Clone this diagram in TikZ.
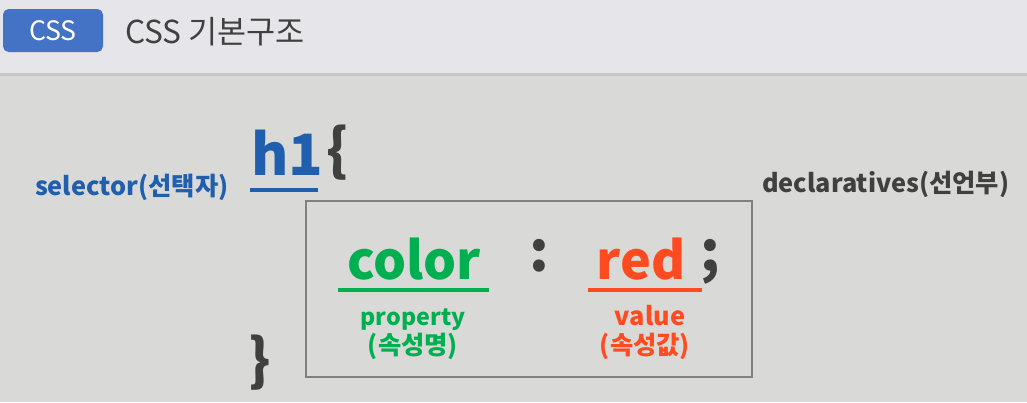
\documentclass[tikz,border=0pt]{standalone}
\usepackage{fontspec}
\setmainfont{Noto Sans CJK KR}
\definecolor{hdrgray}{HTML}{E6E5EA}
\definecolor{bodygray}{HTML}{D9D9D8}
\definecolor{btnblue}{HTML}{4472C4}
\definecolor{selblue}{HTML}{1F5FAD}
\definecolor{propgreen}{HTML}{00B050}
\definecolor{valred}{HTML}{FF4B1F}
\definecolor{darktext}{HTML}{404040}
\tikzset{
  lbl/.style={inner sep=0pt, outer sep=0pt},
  uline/.style={line width=3pt},
}
\begin{document}
\begin{tikzpicture}[x=0.025cm,y=-0.025cm]
\useasboundingbox (0,0) rectangle (1027,402);
\fill [bodygray] (0,0) rectangle (1027,402);
\fill [hdrgray] (0,0) rectangle (1027,73);
\fill [gray!45] (0,73) rectangle (1027,76);
% header
\node (btn) [lbl,fill=btnblue,rounded corners=4pt,minimum width=100*0.025cm,minimum height=43*0.025cm,
  text=white,font=\fontsize{19}{19}\selectfont,anchor=north west] at (3,9) {CSS};
\node (title) [lbl,text=darktext,font=\fontsize{22.5}{22.5}\selectfont,anchor=base west] at (125,43) {CSS 기본구조};
% selector
\node (sel) [lbl,text=selblue,font=\bfseries\fontsize{18}{18}\selectfont,anchor=base west] at (35,195) {selector(선택자)};
\node (h1) [lbl,text=selblue,font=\bfseries\fontsize{40.5}{40.5}\selectfont,anchor=base west] at (251,175) {h1};
\draw [uline,selblue] (250,190) -- (318,190);
\node (open) [lbl,text=darktext,font=\bfseries\fontsize{40}{40}\selectfont,anchor=base west] at (326,170) {\{};
\node (close) [lbl,text=darktext,font=\bfseries\fontsize{40}{40}\selectfont,anchor=base west] at (248,380) {\}};
% declarations
\node (decl) [lbl,text=darktext,font=\bfseries\fontsize{18}{18}\selectfont,anchor=base west] at (762,192) {declaratives(선언부)};
\draw [line width=2pt,gray] (306,201) rectangle (752,377);
\node (prop) [lbl,text=propgreen,font=\bfseries\fontsize{37}{37}\selectfont,anchor=base] at (414,279) {color};
\draw [uline,propgreen] (338,290) -- (489,290);
\node (colon) [lbl,text=darktext,font=\bfseries\fontsize{40}{40}\selectfont,anchor=base] at (539,271) {:};
\node (val) [lbl,text=valred,font=\bfseries\fontsize{37}{37}\selectfont,anchor=base] at (641,279) {red};
\draw [uline,valred] (588,290) -- (702,290);
\node (semi) [lbl,text=darktext,font=\bfseries\fontsize{40}{40}\selectfont,anchor=base] at (710,271) {;};
\node (proplbl) [lbl,text=propgreen,font=\bfseries\fontsize{16.5}{16.5}\selectfont,anchor=base] at (413,325) {property};
\node (propko) [lbl,text=propgreen,font=\bfseries\fontsize{18}{18}\selectfont,anchor=base] at (413,354) {(속성명)};
\node (vallbl) [lbl,text=valred,font=\bfseries\fontsize{18}{18}\selectfont,anchor=base] at (650,325) {value};
\node (valko) [lbl,text=valred,font=\bfseries\fontsize{18}{18}\selectfont,anchor=base] at (645,354) {(속성값)};
\end{tikzpicture}
\end{document}
